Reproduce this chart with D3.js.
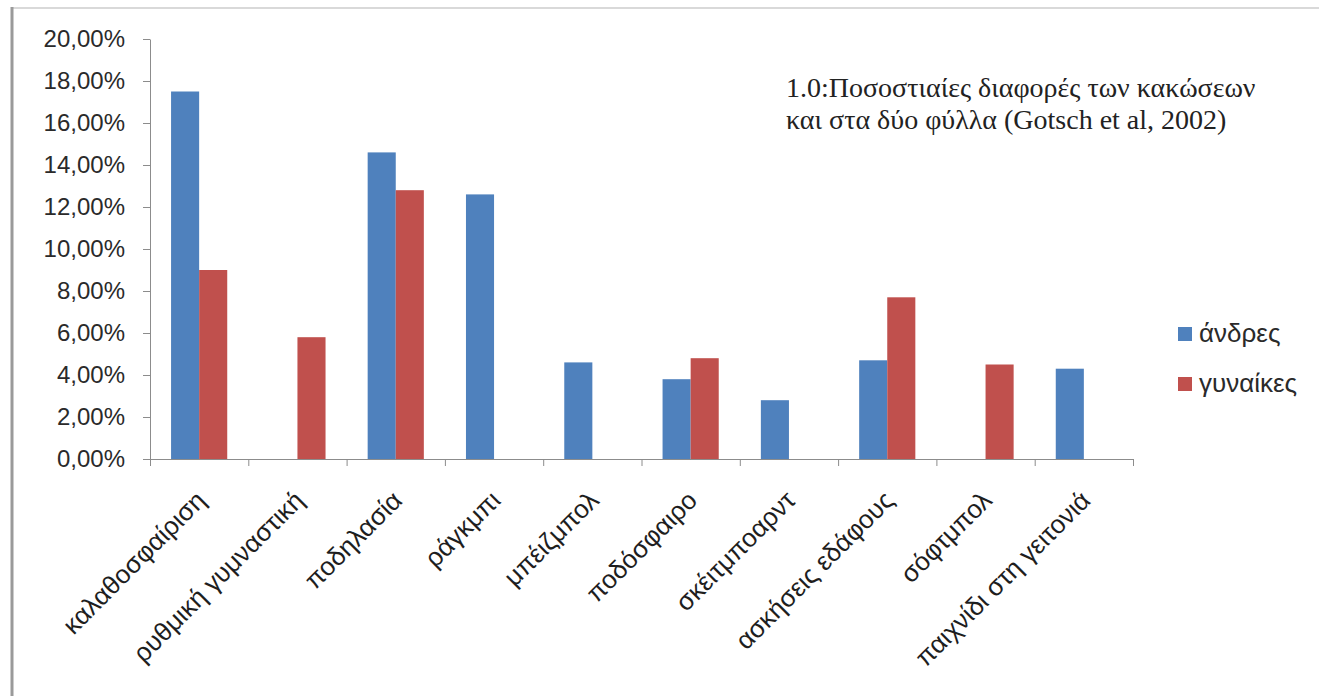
<!DOCTYPE html>
<html>
<head>
<meta charset="utf-8">
<script src="https://cdn.jsdelivr.net/npm/d3@7"></script>
<style>
  html, body { margin: 0; padding: 0; background: #fff; }
  svg { display: block; }
</style>
</head>
<body>
<svg id="chart" width="1319" height="696"></svg>
<script>
// Injury percentages by sport, per sex
const categories = [
  "καλαθοσφαίριση", "ρυθμική γυμναστική", "ποδηλασία", "ράγκμπι", "μπέιζμπολ",
  "ποδόσφαιρο", "σκέιτμποαρντ", "ασκήσεις εδάφους", "σόφτμπολ", "παιχνίδι στη γειτονιά"
];
const seriesNames = ["άνδρες", "γυναίκες"];
const men   = [0.175, 0,     0.146, 0.126, 0.046, 0.038, 0.028, 0.047, 0,     0.043];
const women = [0.090, 0.058, 0.128, 0,     0,     0.048, 0,     0.077, 0.045, 0];
const yTicks = [0, 0.02, 0.04, 0.06, 0.08, 0.10, 0.12, 0.14, 0.16, 0.18, 0.20];
const titleLines = [
  "1.0:Ποσοστιαίες διαφορές των κακώσεων",
  "και στα δύο φύλλα (Gotsch et al, 2002)"
];
const colors = ["#4F81BD", "#C0504D"];

const svg = d3.select("#chart");
const sans = "'Liberation Sans', Arial, sans-serif";
const axisColor = "#8c8c8c";

// frame lines of the chart area
svg.append("line").attr("x1", 12).attr("x2", 1319).attr("y1", 8).attr("y2", 8)
  .attr("stroke", "#d9d9d9").attr("stroke-width", 2);
svg.append("line").attr("x1", 12).attr("x2", 12).attr("y1", 7).attr("y2", 696)
  .attr("stroke", "#9a9a9a").attr("stroke-width", 3);

const plot = { left: 150, right: 1133, top: 39, bottom: 459 };

const x = d3.scaleBand().domain(categories).range([plot.left, plot.right]).padding(0);
const xSub = d3.scaleBand().domain(seriesNames).range([0, x.bandwidth()])
  .paddingInner(0).paddingOuter(0.75);
const y = d3.scaleLinear().domain([0, 0.2]).range([plot.bottom, plot.top]);

const locale = d3.formatLocale({ decimal: ",", thousands: ".", grouping: [3], currency: ["", "€"] });
const pct = locale.format(".2%");

// y axis
const yAxis = svg.append("g")
  .attr("transform", `translate(${plot.left},0)`)
  .call(d3.axisLeft(y).tickValues(yTicks).tickFormat(pct).tickSize(7).tickPadding(18).tickSizeOuter(0));
yAxis.select(".domain").attr("stroke", axisColor);
yAxis.selectAll(".tick line").attr("stroke", axisColor);
yAxis.selectAll(".tick text")
  .attr("font-family", sans).attr("font-size", 24).attr("fill", "#2a2a2a");

// bars
const table = categories.map((c, i) => ({ cat: c, vals: [men[i], women[i]] }));
const groups = svg.append("g").selectAll("g").data(table).join("g")
  .attr("transform", d => `translate(${x(d.cat)},0)`);
groups.selectAll("rect")
  .data(d => d.vals.map((v, k) => ({ v, k })).filter(e => e.v > 0))
  .join("rect")
  .attr("x", e => xSub(seriesNames[e.k]))
  .attr("width", xSub.bandwidth())
  .attr("y", e => y(e.v))
  .attr("height", e => y(0) - y(e.v))
  .attr("fill", e => colors[e.k]);

// x axis with ticks between categories
const xAxis = svg.append("g");
xAxis.append("line").attr("x1", plot.left).attr("x2", plot.right)
  .attr("y1", y(0) + 0.5).attr("y2", y(0) + 0.5).attr("stroke", axisColor);
const bounds = categories.map(c => x(c)).concat([x.range()[1]]);
xAxis.selectAll("line.b").data(bounds).join("line").attr("class", "b")
  .attr("x1", d => d + 0.5).attr("x2", d => d + 0.5)
  .attr("y1", y(0)).attr("y2", y(0) + 7).attr("stroke", axisColor);

// rotated category labels
svg.append("g").selectAll("text").data(categories).join("text")
  .attr("transform", c => `translate(${x(c) + x.bandwidth() / 2 + 8},${502}) rotate(-45)`)
  .attr("text-anchor", "end")
  .attr("font-family", sans).attr("font-size", 26).attr("fill", "#1e1e1e")
  .text(c => c);

// legend
const legend = svg.append("g").attr("transform", "translate(1178,0)");
const legendRows = legend.selectAll("g").data(seriesNames).join("g")
  .attr("transform", (d, i) => `translate(0,${327 + i * 50})`);
legendRows.append("rect").attr("width", 14).attr("height", 14)
  .attr("fill", (d, i) => colors[i]);
legendRows.append("text").attr("x", 21).attr("y", 15)
  .attr("font-family", sans).attr("font-size", 26).attr("fill", "#2a2a2a")
  .text(d => d);

// title block
svg.append("g").selectAll("text").data(titleLines).join("text")
  .attr("x", 786).attr("y", (d, i) => 97 + i * 32)
  .attr("font-family", "'Liberation Serif', 'Times New Roman', serif")
  .attr("font-size", 28).attr("fill", "#222")
  .text(d => d);
</script>
</body>
</html>
